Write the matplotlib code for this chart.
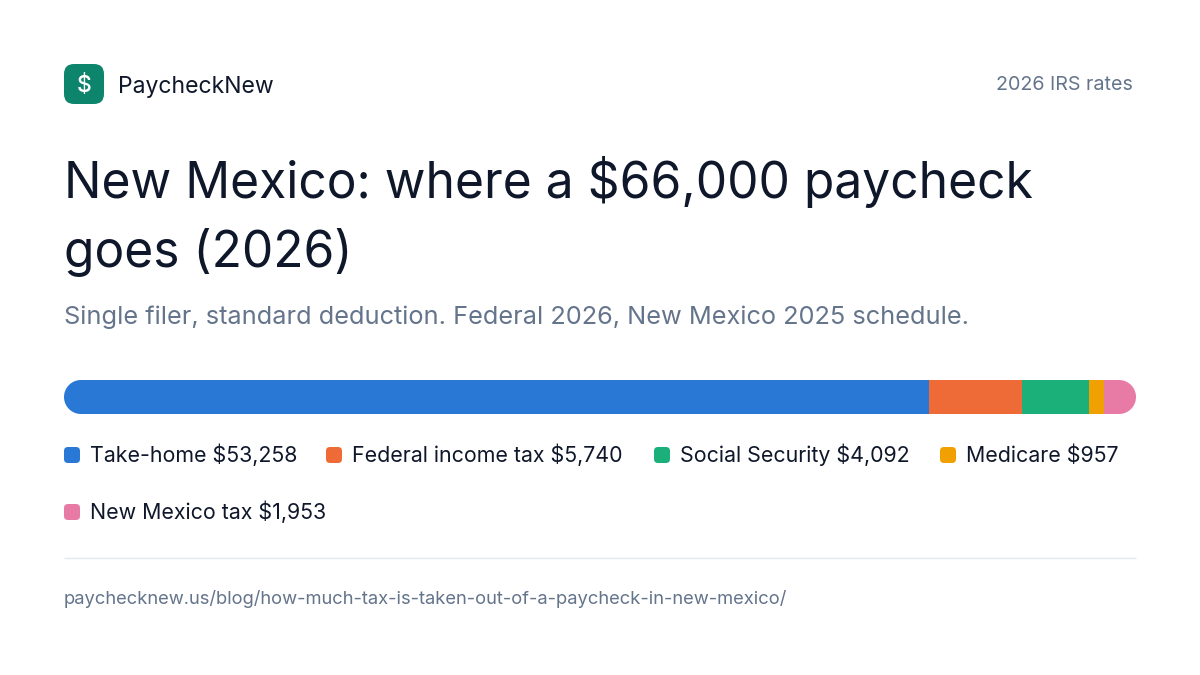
import numpy as np
import matplotlib
matplotlib.use('Agg')
import matplotlib.pyplot as plt
from matplotlib.patches import FancyBboxPatch, PathPatch
from matplotlib.path import Path

plt.rcParams['font.family'] = ['Inter', 'DejaVu Sans']

labels = ['Take-home', 'Federal income tax', 'Social Security', 'Medicare', 'New Mexico tax']
values = [53258, 5740, 4092, 957, 1953]
amounts = ['$53,258', '$5,740', '$4,092', '$957', '$1,953']
colors = ['#2a78d6', '#ee6a36', '#1bb07a', '#f0a000', '#e87aa6']

title_lines = ['New Mexico: where a $66,000 paycheck', 'goes (2026)']
subtitle = 'Single filer, standard deduction. Federal 2026, New Mexico 2025 schedule.'
brand = 'PaycheckNew'
rates = '2026 IRS rates'
url = 'paychecknew.us/blog/how-much-tax-is-taken-out-of-a-paycheck-in-new-mexico/'

DARK = '#0f172a'
GREY = '#64748b'

# legend positions in pixels, wraps like the original
legend_x = [64, 326, 654, 940, 64]
legend_y = [455, 455, 455, 455, 512]

fig = plt.figure(figsize=(12, 6.75), dpi=100, facecolor='white')

# page axes in pixel coordinates
ax = fig.add_axes([0, 0, 1, 1])
ax.set_xlim(0, 1200)
ax.set_ylim(675, 0)
ax.axis('off')

# logo
ax.add_patch(FancyBboxPatch((74, 74), 20, 20, boxstyle='round,pad=10,rounding_size=10',
                            fc='#0d846c', ec='none'))
ax.text(84, 92, r'\$', color='white', fontsize=16.5, fontweight='medium', ha='center', va='baseline')
ax.text(118, 92.5, brand, color=DARK, fontsize=16.55, va='baseline')
ax.text(1133, 90.5, rates, color=GREY, fontsize=14.2, va='baseline', ha='right')

# title
ax.text(64, 198, title_lines[0], color=DARK, fontsize=35.8, va='baseline')
ax.text(64, 267, title_lines[1], color=DARK, fontsize=35.8, va='baseline')
ax.text(64, 324, subtitle, color=GREY, fontsize=18.25, va='baseline')

# legend
for i in range(len(labels)):
    ax.add_patch(FancyBboxPatch((legend_x[i] + 4, legend_y[i] - 4), 8, 8,
                                boxstyle='round,pad=4,rounding_size=4', fc=colors[i], ec='none'))
    ax.text(legend_x[i] + 26, legend_y[i] + 7, labels[i] + ' ' + amounts[i],
            color=DARK, fontsize=15.4, va='baseline')

ax.plot([64, 1136], [557.5, 557.5], color='#e2e8f0', lw=1, solid_capstyle='butt')
ax.text(64, 604.5, url, color=GREY, fontsize=13.25, va='baseline')

# stacked bar, clipped to a pill shape
bar_ax = fig.add_axes([64 / 1200, 1 - 414 / 675, 1072 / 1200, 34 / 675])
bar_ax.set_xlim(0, sum(values))
bar_ax.set_ylim(0, 1)
bar_ax.axis('off')
t = np.linspace(-np.pi / 2, np.pi / 2, 40)
pill_x = np.r_[1119 + 17 * np.cos(t), 81 - 17 * np.cos(t[::-1])]
pill_y = np.r_[397 + 17 * np.sin(t), 397 + 17 * np.sin(t[::-1])]
clip = PathPatch(Path(np.c_[np.r_[pill_x, pill_x[0]], np.r_[pill_y, pill_y[0]]]),
                 fc='none', ec='none', transform=ax.transData)
ax.add_patch(clip)
left = 0
for v, c in zip(values, colors):
    bars = bar_ax.barh(0.5, v, height=1, left=left, color=c, linewidth=0)
    bars[0].set_clip_path(clip)
    left += v

fig.savefig('out.png', dpi=100)
